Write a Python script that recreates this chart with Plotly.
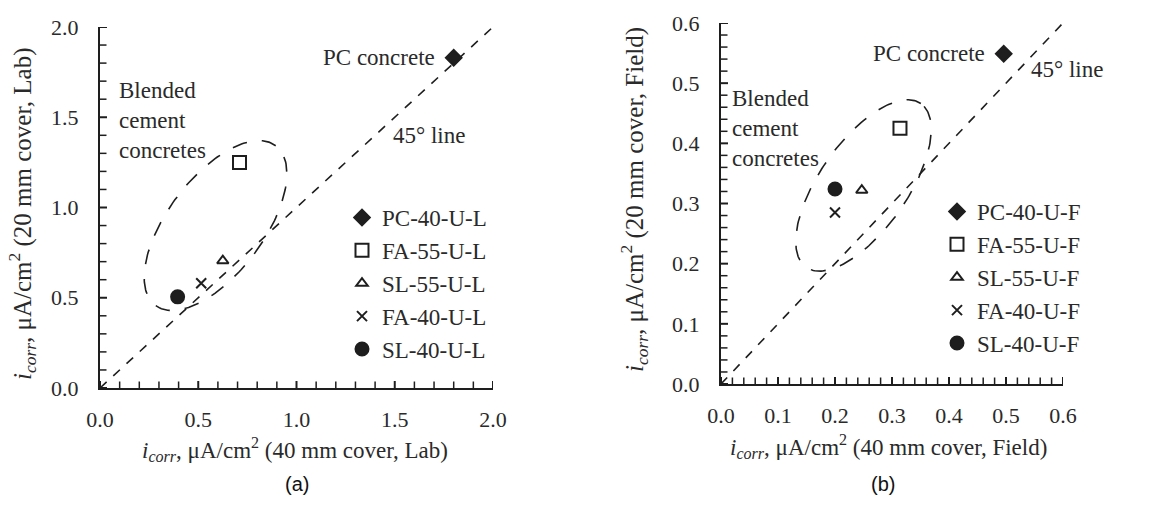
import numpy as np
import plotly.graph_objects as go

# ---------------- data ----------------
series_a = ["PC-40-U-L", "FA-55-U-L", "SL-55-U-L", "FA-40-U-L", "SL-40-U-L"]
x_a = [1.80, 0.71, 0.625, 0.515, 0.395]
y_a = [1.83, 1.25, 0.705, 0.58, 0.505]

series_b = ["PC-40-U-F", "FA-55-U-F", "SL-55-U-F", "FA-40-U-F", "SL-40-U-F"]
x_b = [0.496, 0.314, 0.247, 0.200, 0.200]
y_b = [0.549, 0.425, 0.322, 0.285, 0.324]

symbols = ["diamond", "square-open", "triangle-up-open", "x-thin-open", "circle"]
sizes = [12, 13, 10, 10, 13]

range_a = [0, 2.0]
range_b = [0, 0.6]
ticks_a = [0.0, 0.5, 1.0, 1.5, 2.0]
ticks_b = [0.0, 0.1, 0.2, 0.3, 0.4, 0.5, 0.6]
minor_a = [round(0.1 * i, 2) for i in range(1, 20) if i % 5 != 0]
minor_b = [round(0.02 * i, 2) for i in range(1, 30) if i % 5 != 0]

# ellipse parameters (center in data units, semi-axes in px, angle deg)
ell_a = dict(cx=0.588, cy=0.900, a=100, b=48, ang=53)
ell_b = dict(cx=0.250, cy=0.330, a=100, b=44, ang=55)

W, H = 1175, 517
FONT = "Liberation Serif, Times New Roman, serif"
TXT = "#2a2a2a"
AX = "#1e1e1e"
FS_TICK = 22
FS = 23
MAJ_PX = 7      # half length of crossing major ticks
MIN_PX = 6.5    # length of inside minor ticks

# plot areas in px
pa = dict(x0=100, x1=493, y0=27, y1=388)
pb = dict(x0=721, x1=1063, y0=23, y1=384)

fig = go.Figure()


def scales(rng, p):
    sx = (p["x1"] - p["x0"]) / (rng[1] - rng[0])
    sy = (p["y1"] - p["y0"]) / (rng[1] - rng[0])
    return sx, sy


def ellipse(e, rng, p):
    sx, sy = scales(rng, p)
    t = np.linspace(0, 2 * np.pi, 200)
    th = np.deg2rad(e["ang"])
    dx = e["a"] * np.cos(t) * np.cos(th) - e["b"] * np.sin(t) * np.sin(th)
    dy = e["a"] * np.cos(t) * np.sin(th) + e["b"] * np.sin(t) * np.cos(th)
    return e["cx"] + dx / sx, e["cy"] + dy / sy


def tick_traces(major, minor, rng, p, xa, ya):
    sx, sy = scales(rng, p)
    common = dict(mode="markers", xaxis=xa, yaxis=ya, showlegend=False, hoverinfo="skip",
                  cliponaxis=False, marker=dict(size=1, color="rgba(0,0,0,0)"))
    # x-axis major (crossing) ticks
    fig.add_trace(go.Scatter(x=major, y=[0] * len(major), **common,
                             error_y=dict(type="data", symmetric=True, array=[MAJ_PX / sy] * len(major),
                                          width=0, thickness=2, color=AX)))
    # x-axis minor (inside) ticks
    fig.add_trace(go.Scatter(x=minor, y=[0] * len(minor), **common,
                             error_y=dict(type="data", symmetric=False, array=[MIN_PX / sy] * len(minor),
                                          arrayminus=[0] * len(minor), width=0, thickness=1.5, color=AX)))
    # y-axis major (crossing) ticks
    fig.add_trace(go.Scatter(x=[0] * len(major), y=major, **common,
                             error_x=dict(type="data", symmetric=True, array=[MAJ_PX / sx] * len(major),
                                          width=0, thickness=2, color=AX)))
    # y-axis minor (inside) ticks
    fig.add_trace(go.Scatter(x=[0] * len(minor), y=minor, **common,
                             error_x=dict(type="data", symmetric=False, array=[MIN_PX / sx] * len(minor),
                                          arrayminus=[0] * len(minor), width=0, thickness=1.5, color=AX)))


panels = [(series_a, x_a, y_a, range_a, ell_a, pa, ticks_a, minor_a),
          (series_b, x_b, y_b, range_b, ell_b, pb, ticks_b, minor_b)]
for k, (names, xs, ys, rng, ell, p, maj, mnr) in enumerate(panels):
    xa = "x" if k == 0 else "x2"
    ya = "y" if k == 0 else "y2"
    lg = "legend" if k == 0 else "legend2"
    # 45 degree line
    fig.add_trace(go.Scatter(x=rng, y=rng, mode="lines", xaxis=xa, yaxis=ya,
                             line=dict(color=AX, width=1.6, dash="dash"),
                             showlegend=False, hoverinfo="skip"))
    ex, ey = ellipse(ell, rng, p)
    fig.add_trace(go.Scatter(x=ex, y=ey, mode="lines", xaxis=xa, yaxis=ya,
                             line=dict(color=AX, width=1.6, dash="longdash"),
                             showlegend=False, hoverinfo="skip"))
    tick_traces(maj, mnr, rng, p, xa, ya)
    for i, nm in enumerate(names):
        fig.add_trace(go.Scatter(
            x=[xs[i]], y=[ys[i]], mode="markers", name=nm, xaxis=xa, yaxis=ya,
            legend=lg, legendgroup=f"{k}-{i}",
            marker=dict(symbol=symbols[i], size=sizes[i], color=AX,
                        line=dict(color=AX, width=2))))


def axis_common(rng, ticks, standoff):
    return dict(range=rng, tickvals=ticks, ticktext=[f"{v:.1f}" for v in ticks],
                showgrid=False, zeroline=False, showline=True, linecolor=AX, linewidth=2,
                ticks="outside", ticklen=7, tickwidth=2, tickcolor="rgba(0,0,0,0)",
                ticklabelstandoff=standoff, automargin=False,
                tickfont=dict(family=FONT, size=FS_TICK, color=TXT), fixedrange=True)


fig.update_layout(
    width=W, height=H, margin=dict(l=0, r=0, t=0, b=0),
    paper_bgcolor="white", plot_bgcolor="white", showlegend=True,
    font=dict(family=FONT, size=FS, color=TXT),
    xaxis=dict(domain=[pa["x0"] / W, pa["x1"] / W], anchor="y", **axis_common(range_a, ticks_a, 4)),
    yaxis=dict(domain=[1 - pa["y1"] / H, 1 - pa["y0"] / H], anchor="x", **axis_common(range_a, ticks_a, 8)),
    xaxis2=dict(domain=[pb["x0"] / W, pb["x1"] / W], anchor="y2", **axis_common(range_b, ticks_b, 4)),
    yaxis2=dict(domain=[1 - pb["y1"] / H, 1 - pb["y0"] / H], anchor="x2", **axis_common(range_b, ticks_b, 8)),
    legend=dict(x=342 / W, y=1 - 196 / H, xanchor="left", yanchor="top",
                font=dict(family=FONT, size=FS, color=TXT), tracegroupgap=0,
                bgcolor="rgba(0,0,0,0)", itemwidth=30),
    legend2=dict(x=937 / W, y=1 - 190 / H, xanchor="left", yanchor="top",
                 font=dict(family=FONT, size=FS, color=TXT), tracegroupgap=0,
                 bgcolor="rgba(0,0,0,0)", itemwidth=30),
)

ann_font = dict(family=FONT, size=FS, color=TXT)
annots = [
    dict(x=1.715, y=1.83, xref="x", yref="y", text="PC concrete", xanchor="right", yanchor="middle"),
    dict(x=1.48, y=1.40, xref="x", yref="y", text="45° line", xanchor="left", yanchor="middle"),
    dict(x=0.085, y=1.48, xref="x", yref="y", text="Blended<br>cement<br>concretes",
         xanchor="left", yanchor="middle", align="left"),
    dict(x=0.466, y=0.55, xref="x2", yref="y2", text="PC concrete", xanchor="right", yanchor="middle"),
    dict(x=0.540, y=0.523, xref="x2", yref="y2", text="45° line", xanchor="left", yanchor="middle"),
    dict(x=0.015, y=0.425, xref="x2", yref="y2", text="Blended<br>cement<br>concretes",
         xanchor="left", yanchor="middle", align="left"),
]
for a in annots:
    fig.add_annotation(showarrow=False, font=ann_font, **a)

# axis titles
xt = [
    dict(x=295 / W, y=1 - 449 / H, text="<i>i</i><sub><i>corr</i></sub>, μA/cm<sup>2</sup> (40 mm cover, Lab)"),
    dict(x=888 / W, y=1 - 446 / H, text="<i>i</i><sub><i>corr</i></sub>, μA/cm<sup>2</sup> (40 mm cover, Field)"),
]
for a in xt:
    fig.add_annotation(xref="paper", yref="paper", showarrow=False, xanchor="center", yanchor="middle",
                       font=ann_font, **a)
yt = [
    dict(x=22 / W, y=1 - 214 / H, text="<i>i</i><sub><i>corr</i></sub>, μA/cm<sup>2</sup> (20 mm cover, Lab)"),
    dict(x=634 / W, y=1 - 200 / H, text="<i>i</i><sub><i>corr</i></sub>, μA/cm<sup>2</sup> (20 mm cover, Field)"),
]
for a in yt:
    fig.add_annotation(xref="paper", yref="paper", showarrow=False, xanchor="center", yanchor="middle",
                       textangle=-90, font=dict(family=FONT, size=25, color=TXT), **a)

fig.add_annotation(x=283 / W, y=1 - 497 / H, xref="paper", yref="paper", text="(a)",
                   showarrow=False, font=dict(family="Liberation Sans, Arial, sans-serif", size=20, color="#111"))
fig.add_annotation(x=897 / W, y=1 - 497 / H, xref="paper", yref="paper", text="(b)",
                   showarrow=False, font=dict(family="Liberation Sans, Arial, sans-serif", size=20, color="#111"))

fig.write_html("out.html")
